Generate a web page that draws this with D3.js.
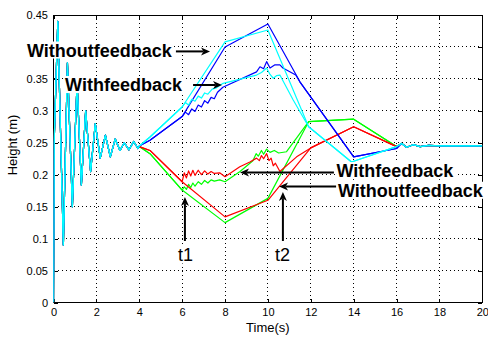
<!DOCTYPE html>
<html>
<head>
<meta charset="utf-8">
<script src="https://cdn.jsdelivr.net/npm/d3@7"></script>
<style>
body { margin: 0; background: #fff; }
text { font-family: "Liberation Sans", Arial, Helvetica, sans-serif; }
</style>
</head>
<body>
<svg id="chart" width="488" height="340"></svg>
<script>
// tick values (0.4 label is hidden behind the annotation in the original)
var xTicks = [0, 2, 4, 6, 8, 10, 12, 14, 16, 18, 20];
var yTicks = [0, 0.05, 0.1, 0.15, 0.2, 0.25, 0.3, 0.35, 0.4, 0.45];
var yTickLabels = ["0", "0.05", "0.1", "0.15", "0.2", "0.25", "0.3", "0.35", "", "0.45"];

// start-up oscillation, same for every run until t = 4
var oscT = [0, 0.03, 0.2, 0.46, 0.65, 0.88, 1.1, 1.3, 1.5, 1.73, 1.95, 2.18, 2.42, 2.65, 2.88, 3.1, 3.3, 3.52, 3.74, 3.94];
var oscV = [0, 0.25, 0.44, 0.09, 0.375, 0.15, 0.345, 0.184, 0.3, 0.205, 0.28, 0.226, 0.262, 0.228, 0.256, 0.238, 0.25, 0.239, 0.252, 0.241];

// settled tail after t = 16
var tailT = [16.24, 16.47, 16.78, 17.1, 17.5, 18, 19, 20];
var tailV = [0.249, 0.243, 0.247, 0.244, 0.246, 0.245, 0.245, 0.245];

// without feedback, t = 4 .. 16
var cyanNoT = [4, 4.5, 6, 8, 10, 11.9, 13.9, 16];
var cyanNoV = [0.245, 0.259, 0.306, 0.408, 0.4265, 0.275, 0.22, 0.244];
var blueNoT = [4, 4.5, 6, 8, 10, 11.5, 14, 16];
var blueNoV = [0.245, 0.254, 0.291, 0.4, 0.436, 0.345, 0.228, 0.241];
var redNoT = [4, 4.5, 6, 8, 10, 12, 14, 16];
var redNoV = [0.244, 0.238, 0.189, 0.134, 0.16, 0.242, 0.275, 0.244];
var greenNoT = [4, 4.5, 6, 8, 10, 11.9, 14, 16];
var greenNoV = [0.244, 0.233, 0.176, 0.125, 0.163, 0.283, 0.287, 0.244];

// with feedback, from t1 until the run rejoins
var cyanFbT = [6, 6.15, 6.3, 6.45, 6.6, 6.75, 6.9, 7.05, 7.2, 7.4, 7.6, 7.91, 9.47, 9.7, 9.94, 10.1, 10.25, 10.4, 10.56, 11.18, 11.9];
var cyanFbV = [0.306, 0.313, 0.309, 0.318, 0.315, 0.323, 0.32, 0.328, 0.326, 0.334, 0.336, 0.343, 0.356, 0.36, 0.367, 0.357, 0.351, 0.355, 0.356, 0.317, 0.275];
var blueFbT = [6, 6.15, 6.3, 6.45, 6.6, 6.75, 6.9, 7.05, 7.2, 7.35, 7.5, 7.65, 7.9, 9.47, 9.63, 9.8, 9.94, 10.1, 10.33, 10.56, 10.7, 11.3];
var blueFbV = [0.291, 0.298, 0.294, 0.303, 0.299, 0.309, 0.306, 0.316, 0.312, 0.321, 0.319, 0.329, 0.337, 0.361, 0.369, 0.366, 0.377, 0.367, 0.372, 0.372, 0.367, 0.356];
var redFbT = [6, 6.1, 6.2, 6.3, 6.4, 6.5, 6.6, 6.75, 6.9, 7.05, 7.2, 7.35, 7.5, 7.75, 8, 8.69, 9.16, 9.47, 9.6, 9.7, 9.8, 9.94, 10.05, 10.15, 10.25, 10.35, 10.56, 11.34, 12];
var redFbV = [0.189, 0.203, 0.195, 0.206, 0.198, 0.207, 0.199, 0.207, 0.2, 0.206, 0.201, 0.205, 0.202, 0.203, 0.197, 0.2125, 0.22, 0.226, 0.222, 0.23, 0.225, 0.233, 0.222, 0.226, 0.214, 0.218, 0.205, 0.228, 0.242];
var greenFbT = [6, 6.1, 6.2, 6.3, 6.4, 6.5, 6.6, 6.75, 6.9, 7.05, 7.2, 7.35, 7.5, 7.75, 8, 8.7, 9.3, 9.45, 9.55, 9.7, 9.8, 9.94, 10.1, 10.3, 10.5, 10.87, 11.9];
var greenFbV = [0.176, 0.181, 0.177, 0.185, 0.18, 0.187, 0.182, 0.189, 0.185, 0.191, 0.187, 0.192, 0.19, 0.192, 0.189, 0.205, 0.222, 0.233, 0.229, 0.238, 0.232, 0.24, 0.235, 0.238, 0.234, 0.236, 0.283];

var svg = d3.select("#chart");
var x = d3.scaleLinear().domain([0, 20]).range([53.5, 482.3]);
var y = d3.scaleLinear().domain([0, 0.45]).range([302.5, 15]);

function zip(ts, vs) {
    return ts.map(function (t, i) { return [t, vs[i]]; });
}
function buildRun(noT, noV, fbT, fbV) {
    var mid = zip(noT, noV);
    if (fbT) {
        var t0 = fbT[0], t1 = fbT[fbT.length - 1];
        mid = mid.filter(function (d) { return d[0] < t0; })
            .concat(zip(fbT, fbV))
            .concat(mid.filter(function (d) { return d[0] > t1; }));
    }
    return zip(oscT, oscV).concat(mid).concat(zip(tailT, tailV));
}

var runs = [
    {color: "#00ff00", pts: buildRun(greenNoT, greenNoV)},
    {color: "#00ff00", pts: buildRun(greenNoT, greenNoV, greenFbT, greenFbV)},
    {color: "#ff0000", pts: buildRun(redNoT, redNoV)},
    {color: "#ff0000", pts: buildRun(redNoT, redNoV, redFbT, redFbV)},
    {color: "#0000ff", pts: buildRun(blueNoT, blueNoV)},
    {color: "#0000ff", pts: buildRun(blueNoT, blueNoV, blueFbT, blueFbV)},
    {color: "#00ffff", pts: buildRun(cyanNoT, cyanNoV)},
    {color: "#00ffff", pts: buildRun(cyanNoT, cyanNoV, cyanFbT, cyanFbV)}
];

// grid
var grid = svg.append("g").attr("id", "grid")
    .attr("stroke", "#000")
    .attr("stroke-width", 1)
    .attr("stroke-dasharray", "1,3")
    .attr("shape-rendering", "crispEdges");
grid.selectAll("line.gx")
    .data(xTicks.slice(1, -1))
    .enter().append("line")
    .attr("class", "gx")
    .attr("x1", function (d) { return x(d); })
    .attr("x2", function (d) { return x(d); })
    .attr("y1", y(0.45))
    .attr("y2", y(0));
grid.selectAll("line.gy")
    .data(yTicks.slice(1, -1))
    .enter().append("line")
    .attr("class", "gy")
    .attr("y1", function (d) { return y(d); })
    .attr("y2", function (d) { return y(d); })
    .attr("x1", x(0))
    .attr("x2", x(20));

// axes, ticks pointing inward
var axBottom = svg.append("g")
    .attr("transform", "translate(0," + y(0) + ")")
    .call(d3.axisBottom(x).tickValues(xTicks).tickSizeInner(-4).tickSizeOuter(0).tickPadding(6));
var axTop = svg.append("g")
    .attr("transform", "translate(0," + y(0.45) + ")")
    .call(d3.axisTop(x).tickValues(xTicks).tickSizeInner(-4).tickSizeOuter(0).tickFormat(""));
var axLeft = svg.append("g")
    .attr("transform", "translate(" + x(0) + ",0)")
    .call(d3.axisLeft(y).tickValues(yTicks).tickSizeInner(-4).tickSizeOuter(0).tickPadding(5.5)
        .tickFormat(function (d, i) { return yTickLabels[i]; }));
var axRight = svg.append("g")
    .attr("transform", "translate(" + x(20) + ",0)")
    .call(d3.axisRight(y).tickValues(yTicks).tickSizeInner(-4).tickSizeOuter(0).tickFormat(""));
[axBottom, axTop, axLeft, axRight].forEach(function (g) {
    g.select(".domain").remove();
    g.selectAll("line").attr("shape-rendering", "crispEdges");
    g.selectAll("text")
        .attr("font-family", "'Liberation Sans', Arial, Helvetica, sans-serif")
        .attr("font-size", 11)
        .attr("fill", "#000");
});
svg.append("rect")
    .attr("x", x(0))
    .attr("y", y(0.45))
    .attr("width", x(20) - x(0))
    .attr("height", y(0) - y(0.45))
    .attr("fill", "none")
    .attr("stroke", "#000")
    .attr("shape-rendering", "crispEdges");

svg.append("text")
    .attr("x", (x(0) + x(20)) / 2)
    .attr("y", 332)
    .attr("text-anchor", "middle")
    .attr("font-size", 13)
    .text("Time(s)");
svg.append("text")
    .attr("transform", "translate(17,145) rotate(-90)")
    .attr("text-anchor", "middle")
    .attr("font-size", 13)
    .text("Height (m)");

// data
svg.append("clipPath").attr("id", "plotclip")
    .append("rect")
    .attr("x", x(0)).attr("y", y(0.45))
    .attr("width", x(20) - x(0)).attr("height", y(0) - y(0.45));
var line = d3.line()
    .x(function (d) { return x(d[0]); })
    .y(function (d) { return y(d[1]); });
svg.append("g")
    .attr("clip-path", "url(#plotclip)")
    .selectAll("path")
    .data(runs)
    .enter().append("path")
    .attr("d", function (d) { return line(d.pts); })
    .attr("fill", "none")
    .attr("stroke", function (d) { return d.color; })
    .attr("stroke-width", 1.2)
    .attr("stroke-linejoin", "round");

// annotations (data coords)
var labels = [
    {text: "Withoutfeedback", t: -1.24, v: 0.385, bold: true},
    {text: "Withfeedback", t: 0.54, v: 0.331, bold: true},
    {text: "Withfeedback", t: 13.2, v: 0.1962, bold: true},
    {text: "Withoutfeedback", t: 13.27, v: 0.1655, bold: true},
    {text: "t1", t: 5.81, v: 0.0642, bold: false},
    {text: "t2", t: 10.33, v: 0.0642, bold: false}
];
var arrows = [
    {t0: 5.71, v0: 0.393, t1: 7.3, v1: 0.393},
    {t0: 6.51, v0: 0.3404, t1: 7.86, v1: 0.3404},
    {t0: 13.08, v0: 0.2035, t1: 8.7, v1: 0.2035},
    {t0: 13.18, v0: 0.1816, t1: 10.52, v1: 0.1816},
    {t0: 6.13, v0: 0.0963, t1: 6.13, v1: 0.1651},
    {t0: 10.7, v0: 0.0963, t1: 10.7, v1: 0.173}
];

var ann = svg.append("g").attr("id", "annotations");
labels.forEach(function (d) {
    var g = ann.append("g");
    var bg = g.append("rect").attr("fill", "#fff");
    var txt = g.append("text")
        .attr("x", x(d.t))
        .attr("y", y(d.v))
        .attr("font-size", 18)
        .attr("font-weight", d.bold ? "bold" : "normal")
        .attr("fill", "#000")
        .text(d.text);
    var b = txt.node().getBBox();
    // tight box: cap height to just below baseline
    bg.attr("x", b.x - 1).attr("y", y(d.v) - 15).attr("width", b.width + 2).attr("height", 17);
});
arrows.forEach(function (d) {
    var x0 = x(d.t0), y0 = y(d.v0), x1 = x(d.t1), y1 = y(d.v1);
    var ang = Math.atan2(y1 - y0, x1 - x0);
    var len = 9, half = 4, notch = 2.5;
    var ca = Math.cos(ang), sa = Math.sin(ang);
    ann.append("line")
        .attr("x1", x0).attr("y1", y0)
        .attr("x2", x1 - ca * (len - notch)).attr("y2", y1 - sa * (len - notch))
        .attr("stroke", "#000")
        .attr("stroke-width", 2);
    var p = d3.path();
    p.moveTo(x1, y1);
    p.lineTo(x1 - ca * len - sa * half, y1 - sa * len + ca * half);
    p.lineTo(x1 - ca * (len - notch), y1 - sa * (len - notch));
    p.lineTo(x1 - ca * len + sa * half, y1 - sa * len - ca * half);
    p.closePath();
    ann.append("path").attr("d", p.toString()).attr("fill", "#000");
});
</script>
</body>
</html>
